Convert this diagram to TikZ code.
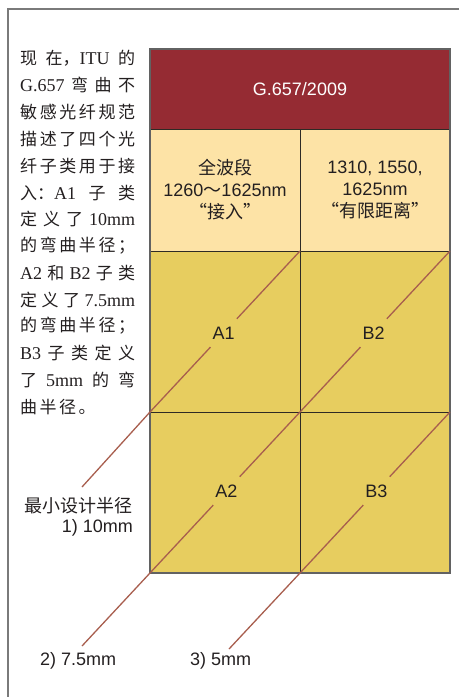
\documentclass[tikz,border=0pt]{standalone}
\usepackage{fontspec}
\usetikzlibrary{calc}
\setmainfont{Liberation Serif}
\newfontfamily\cjk{Noto Sans CJK SC}
\newfontfamily\sansf{Liberation Sans}
\definecolor{hdrred}{HTML}{952B33}
\definecolor{lightcell}{HTML}{FDE3A6}
\definecolor{yelcell}{HTML}{E7CD5F}
\definecolor{diagc}{HTML}{A85E4E}
\definecolor{framec}{HTML}{7A7A7A}
\definecolor{gridc}{HTML}{2E2A25}
\definecolor{textc}{HTML}{231F20}
\tikzset{
  cellbox/.style={draw=gridc, line width=0.9pt, inner sep=0pt, text=textc,
    font=\sansf\fontsize{18}{22}\selectfont, align=center},
  lab/.style={inner sep=0pt, minimum width=34pt, minimum height=28pt, text=textc,
    font=\sansf\fontsize{18}{22}\selectfont},
  diag/.style={draw=diagc, line width=1.3pt},
  side/.style={anchor=west, inner sep=0pt, text=textc, font=\fontsize{18}{18}\selectfont},
  btm/.style={inner sep=0pt, text=textc, font=\sansf\fontsize{18}{22}\selectfont}
}
\newcommand{\cj}{\cjk\fontsize{17}{17}\selectfont}
\newcommand{\J}[1]{\hbox to 115pt{#1}}
\newcommand{\hf}{\hfill}
\begin{document}
\begin{tikzpicture}[x=1pt,y=-1pt]
\useasboundingbox (0,0) rectangle (459,697);
% outer frame
\draw[framec, line width=1.3pt] (459,9) -- (8,9) -- (8,697);

% side text
\node[side] (s1) at (20,58) {\J{{\cj 现}\hf{\cj 在，}ITU\hf{\cj 的}}};
\node[side] (s2) at (20,85) {\J{G.657\hf{\cj 弯}\hf{\cj 曲}\hf{\cj 不}}};
\node[side] (s3) at (20,112) {\J{\cj 敏\hf 感\hf 光\hf 纤\hf 规\hf 范}};
\node[side] (s4) at (20,139) {\J{\cj 描\hf 述\hf 了\hf 四\hf 个\hf 光}};
\node[side] (s5) at (20,166) {\J{\cj 纤\hf 子\hf 类\hf 用\hf 于\hf 接}};
\node[side] (s6) at (20,193) {\J{{\cj 入：}A1\hf{\cj 子}\hf{\cj 类}}};
\node[side] (s7) at (20,219) {\J{{\cj 定}\hf{\cj 义}\hf{\cj 了}\hf 10mm}};
\node[side] (s8) at (20,246) {\J{\cj 的\hf 弯\hf 曲\hf 半\hf 径\hf ；}};
\node[side] (s9) at (20,273) {\J{A2\hf{\cj 和}\hf B2\hf{\cj 子}\hf{\cj 类}}};
\node[side] (s10) at (20,300) {\J{{\cj 定}\hf{\cj 义}\hf{\cj 了}\hf 7.5mm}};
\node[side] (s11) at (20,326) {\J{\cj 的\hf 弯\hf 曲\hf 半\hf 径\hf ；}};
\node[side] (s12) at (20,353) {\J{B3\hf{\cj 子}\hf{\cj 类}\hf{\cj 定}\hf{\cj 义}}};
\node[side] (s13) at (20,380) {\J{{\cj 了}\hf 5mm\hf{\cj 的}\hf{\cj 弯}}};
\node[side] (s14) at (20,407) {{\cj 曲\hskip2.5pt 半\hskip2.5pt 径\hskip2.5pt 。}};

% grid cells
\node[cellbox, fill=hdrred, text=white, minimum width=300pt, minimum height=80pt] (hdr) at (300,89) {G.657/2009};
\node[cellbox, fill=lightcell, minimum width=150pt, minimum height=122pt] (la) at (225,190)
  {{\cjk 全波段}\\1260{\cjk ～}1625nm\\{\cjk “接入”}};
\node[cellbox, fill=lightcell, minimum width=150pt, minimum height=122pt] (lb) at (375,190)
  {1310, 1550,\\1625nm\\{\cjk “有限距离”}};
\node[cellbox, fill=yelcell, minimum width=150pt, minimum height=161pt] (ca1) at (225,331.5) {};
\node[cellbox, fill=yelcell, minimum width=150pt, minimum height=161pt] (cb2) at (375,331.5) {};
\node[cellbox, fill=yelcell, minimum width=150pt, minimum height=161pt] (ca2) at (225,492.5) {};
\node[cellbox, fill=yelcell, minimum width=150pt, minimum height=161pt] (cb3) at (375,492.5) {};
\draw[framec!80!black, line width=1.5pt] (150,49) rectangle (450,573);

% corner coordinates
\coordinate (p1) at (300,251);
\coordinate (p2) at (150,412);
\coordinate (q1) at (450,251);
\coordinate (q2) at (300,412);
\coordinate (q3) at (150,573);
\coordinate (r1) at (450,412);
\coordinate (r2) at (300,573);
\coordinate (e1) at (82,487);
\coordinate (e2) at (82,646);
\coordinate (e3) at (229,649);

% labels on diagonals
\node[lab] (A1) at ($(p1)!0.509!(p2)$) {A1};
\node[lab] (B2) at ($(q1)!0.509!(q2)$) {B2};
\node[lab] (A2) at ($(q2)!0.49!(q3)$) {A2};
\node[lab] (B3) at ($(r1)!0.49!(r2)$) {B3};

% diagonals
\draw[diag] (p1) -- (A1);
\draw[diag] (A1) -- (p2) -- (e1);
\draw[diag] (q1) -- (B2);
\draw[diag] (B2) -- (q2) -- (A2);
\draw[diag] (A2) -- (q3) -- (e2);
\draw[diag] (r1) -- (B3);
\draw[diag] (B3) -- (r2) -- (e3);

% bottom labels
\node[btm, anchor=east] (t0) at (133,506) {\cjk 最小设计半径};
\node[btm, anchor=east] (t1) at (133,528) {1) 10mm};
\node[btm, anchor=west] (t2) at (40,661) {2) 7.5mm};
\node[btm, anchor=west] (t3) at (190,661) {3) 5mm};
\end{tikzpicture}
\end{document}
